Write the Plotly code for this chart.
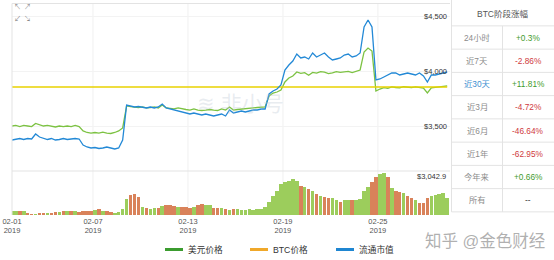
import plotly.graph_objects as go
import pandas as pd

# ---------------- data ----------------
times = pd.date_range("2019-02-01 21:00", periods=111, freq="6h")

usd_price = [
    3500, 3505, 3495, 3505, 3500, 3495, 3523, 3509, 3500, 3505, 3495, 3491, 3500, 3495, 3500, 3495, 3505, 3495,
    3455, 3441, 3436, 3441, 3436, 3445, 3436, 3432, 3441, 3455, 3482,
    3682, 3677, 3673, 3668, 3673, 3664, 3668, 3673, 3664, 3691, 3664, 3659, 3655, 3664, 3655, 3650, 3645, 3655,
    3645, 3641, 3645, 3650, 3645, 3641, 3655, 3645, 3673, 3645, 3650, 3655, 3659, 3664, 3664, 3668, 3673, 3673,
    3773, 3800, 3809,
    3827, 3900, 3936, 3955, 3991, 3978, 3985, 3962, 3987, 3980, 3994, 3989, 3976, 3983, 3995, 3988, 3990, 3997,
    3985, 4000, 4009, 4173, 4209, 4182,
    3818, 3836, 3848, 3842, 3856, 3850, 3847, 3857, 3853, 3849, 3856, 3852, 3845, 3800, 3846, 3851, 3855, 3860, 3864,
]

market_cap_b = [
    61.1, 61.2, 61.25, 61.15, 61.25, 61.2, 61.7, 61.4, 61.25, 61.15, 61.25, 61.1, 61.15, 61.25, 61.15, 61.2, 61.25, 61.2,
    60.6, 60.4, 60.3, 60.35, 60.25, 60.3, 60.4, 60.3, 60.2, 60.3, 61.1,
    64.6, 64.5, 64.4, 64.45, 64.35, 64.3, 64.4, 64.3, 64.4, 64.7, 64.3, 64.2, 64.1, 64.0, 63.9, 63.8, 63.7, 63.8,
    63.7, 63.6, 63.7, 63.6, 63.5, 63.6, 63.7, 63.5, 64.1, 63.8, 63.9, 64.0, 63.9, 64.0, 64.1, 64.1, 64.2, 64.2,
    65.7, 66.0, 66.2,
    66.6, 68.1, 68.6, 69.0, 69.7, 69.3, 69.4, 69.2, 69.8, 69.4, 69.6, 69.8, 69.4, 69.1, 69.2, 69.3, 69.6, 69.7,
    69.4, 69.5, 69.8, 72.4, 73.1, 72.4,
    67.1, 67.2, 67.4, 67.6, 67.8, 67.8, 67.6, 67.7, 67.8, 67.7, 67.6, 67.8, 67.5, 66.9, 67.6, 67.6, 67.7, 67.8, 67.9,
]

btc_price = [1.0] * len(times)

volume = [
    290, 286, 293, 254, 181, 72, 36, 145, 148, 142,
    181, 185, 217, 290, 326, 290, 254, 217, 254, 326,
    290, 398, 401, 326, 290, 217, 181, 217, 471, 1159,
    1449, 1521, 1304, 580, 507, 471, 475, 507, 688, 725,
    729, 688, 616, 580, 584, 543, 616, 761, 765, 725,
    721, 543, 507, 511, 435, 398, 402, 435, 398, 394,
    435, 398, 402, 435, 580, 942, 1377, 1739, 2246, 2391,
    2463, 2608, 2463, 2101, 2029, 1884, 1739, 1521, 1377, 1304,
    1268, 1232, 1087, 942, 1087, 1051, 1087, 1051, 1159, 1739,
    2029, 2391, 2753, 2970, 3042.9, 2753, 1956, 1739, 1666, 1594,
    1377, 1232, 1087, 869, 872, 1232, 1377, 1449, 1521, 1594, 1232,
]

tick_dates = ["2019-02-07", "2019-02-13", "2019-02-19", "2019-02-25"]
tick_labels = ["02-01", "02-07", "02-13", "02-19", "02-25", "03-01"]

table_title = "BTC阶段涨幅"
period_names = ["24小时", "近7天", "近30天", "近3月", "近6月", "近1年", "今年来", "所有"]
period_changes = ["+0.3%", "-2.86%", "+11.81%", "-4.72%", "-46.64%", "-62.95%", "+0.66%", "--"]

legend_names = ["美元价格", "BTC价格", "流通市值"]

# ---------------- geometry helpers ----------------
W, H = 554, 260
L, R, T, B = 12, 450, 3, 215
PX_PER_DAY = 15.83
origin = pd.Timestamp("2019-02-01 00:00")
ORIGIN_PX = -2


def px2date(x):
    return origin + pd.Timedelta(days=(x - ORIGIN_PX) / PX_PER_DAY)


def fx(x):
    return (x - L) / (R - L)


def fy(y):
    return (B - y) / (B - T)


FONT = "Liberation Sans, Arial, Noto Sans CJK SC, sans-serif"
GREEN = "#7cc242"
BLUE = "#2389d6"
YELLOW = "#e9d200"
UP = "#9ccd5c"
DOWN = "#d9825a"

bar_colors = [UP]
for i in range(1, len(usd_price)):
    bar_colors.append(UP if usd_price[i] >= usd_price[i - 1] else DOWN)

fig = go.Figure()
fig.add_trace(go.Bar(x=times, y=volume, marker=dict(color=bar_colors, line=dict(width=0)),
                     width=6 * 3600 * 1000 * 0.9, xaxis="x", yaxis="y", showlegend=False))
fig.add_trace(go.Scatter(x=times, y=btc_price, mode="lines", line=dict(color=YELLOW, width=1.3),
                         xaxis="x", yaxis="y3", showlegend=False))
fig.add_trace(go.Scatter(x=times, y=usd_price, mode="lines", line=dict(color=GREEN, width=1.3),
                         xaxis="x", yaxis="y2", showlegend=False))
fig.add_trace(go.Scatter(x=times, y=market_cap_b, mode="lines", line=dict(color=BLUE, width=1.3),
                         xaxis="x", yaxis="y4", showlegend=False))

split = (B - 171) / (B - T)
vol_max = max(volume)

tickvals = [px2date(L)] + [pd.Timestamp(d) for d in tick_dates] + [pd.Timestamp("2019-03-01 05:00")]
ticktext = [f"{t}<br>2019" for t in tick_labels]

shapes = []
line_c = "#e3e3e3"
# plot frame
shapes.append(dict(type="line", xref="paper", yref="paper", x0=0, x1=1, y0=fy(3.5), y1=fy(3.5),
                   line=dict(color=line_c, width=1)))
shapes.append(dict(type="line", xref="paper", yref="paper", x0=0, x1=0, y0=0, y1=fy(3.5),
                   line=dict(color=line_c, width=1)))
shapes.append(dict(type="line", xref="paper", yref="paper", x0=0, x1=1, y0=split, y1=split,
                   line=dict(color=line_c, width=1)))
for d in tick_dates:
    shapes.append(dict(type="line", xref="x", yref="paper", x0=d, x1=d, y0=0, y1=fy(3.5),
                       line=dict(color="#f0f0f0", width=1), layer="below"))

# table lines
tbl_l, tbl_r, col_div = 451.5, 554, 502.5
row_h = 23.25
first_c = 37.5
bounds = [first_c - row_h / 2 + k * row_h for k in range(len(period_names) + 1)]
shapes.append(dict(type="line", xref="paper", yref="paper", x0=fx(tbl_l), x1=fx(tbl_l), y0=fy(0), y1=fy(bounds[-1]),
                   line=dict(color=line_c, width=1)))
shapes.append(dict(type="line", xref="paper", yref="paper", x0=fx(col_div), x1=fx(col_div), y0=fy(bounds[0]),
                   y1=fy(bounds[-1]), line=dict(color=line_c, width=1)))
for b in bounds:
    shapes.append(dict(type="line", xref="paper", yref="paper", x0=fx(tbl_l), x1=fx(tbl_r), y0=fy(b), y1=fy(b),
                       line=dict(color=line_c, width=1)))

annotations = []
# table text
annotations.append(dict(text=table_title, x=fx(503), y=fy(14), xref="paper", yref="paper", showarrow=False,
                        xanchor="center", yanchor="middle", font=dict(size=8.5, color="#555", family=FONT)))
for k, (nm, ch) in enumerate(zip(period_names, period_changes)):
    cy = first_c + k * row_h
    ncol = "#3d8fd1" if nm == "近30天" else "#8c8c8c"
    if ch.startswith("+"):
        ccol = "#3f9b2d"
    elif ch.startswith("-") and ch != "--":
        ccol = "#cf3a3e"
    else:
        ccol = "#333"
    annotations.append(dict(text=nm, x=fx(477), y=fy(cy), xref="paper", yref="paper", showarrow=False,
                            xanchor="center", yanchor="middle", font=dict(size=8.3, color=ncol, family=FONT)))
    annotations.append(dict(text=ch, x=fx(528), y=fy(cy), xref="paper", yref="paper", showarrow=False,
                            xanchor="center", yanchor="middle", font=dict(size=8.3, color=ccol, family=FONT)))

# volume max label
annotations.append(dict(text=f"${vol_max:,.1f}", x=fx(448), y=fy(176), xref="paper", yref="paper",
                        showarrow=False, xanchor="right", yanchor="middle",
                        font=dict(size=7.5, color="#333", family=FONT)))

# custom legend
leg_cols = ["#3b9c2f", "#f0a82a", "#1f86d1"]
leg_x = [165, 250, 336]
for nm, c, x0 in zip(legend_names, leg_cols, leg_x):
    shapes.append(dict(type="line", xref="paper", yref="paper", x0=fx(x0), x1=fx(x0 + 18), y0=fy(249.5),
                       y1=fy(249.5), line=dict(color=c, width=3)))
    annotations.append(dict(text=nm, x=fx(x0 + 21), y=fy(249.5), xref="paper", yref="paper", showarrow=False,
                            xanchor="left", yanchor="middle", font=dict(size=8.7, color="#333", family=FONT)))

# expand icon
for t, xx, yy in [("↖", 17, 7), ("↗", 27, 7), ("↙", 17, 19), ("↘", 27, 19)]:
    annotations.append(dict(text=t, x=fx(xx), y=fy(yy), xref="paper", yref="paper", showarrow=False,
                            xanchor="center", yanchor="middle", font=dict(size=7, color="#8a8a8a", family=FONT)))

# watermarks
annotations.append(dict(text="≋ 非小号", x=fx(240), y=fy(104), xref="paper", yref="paper", showarrow=False,
                        xanchor="center", yanchor="middle",
                        font=dict(size=21, color="rgba(190,200,212,0.35)", family=FONT)))
annotations.append(dict(text="知乎 @金色财经", x=fx(485), y=fy(241), xref="paper", yref="paper", showarrow=False,
                        xanchor="center", yanchor="middle",
                        font=dict(size=16.5, color="rgba(150,150,150,0.75)", family=FONT)))

fig.update_layout(
    width=W, height=H,
    margin=dict(l=L, r=W - R, t=T, b=H - B, pad=0),
    paper_bgcolor="white", plot_bgcolor="white",
    showlegend=False,
    bargap=0,
    font=dict(family=FONT),
    xaxis=dict(type="date", range=[px2date(L), px2date(R)], domain=[0, 1], anchor="y",
               showgrid=False, zeroline=False, showline=False, ticks="",
               tickvals=tickvals, ticktext=ticktext, tickangle=0,
               tickfont=dict(size=7.5, color="#555", family=FONT)),
    yaxis=dict(domain=[0, split], range=[0, vol_max * 44 / 42], visible=False),
    yaxis2=dict(domain=[split, 1], range=[4000 - (171 - 71) / 0.11, 4000 + (71 - 3) / 0.11], anchor="x",
                side="right", ticklabelposition="inside", tickvals=[3500, 4000, 4500],
                ticktext=["$3,500", "$4,000", "$4,500"], showgrid=True, gridcolor="#f3f3f3",
                zeroline=False, showline=False, ticks="",
                tickfont=dict(size=7.5, color="#333", family=FONT)),
    yaxis3=dict(overlaying="y2", range=[0, 2], visible=False),
    yaxis4=dict(overlaying="y2", range=[61.2 + (139 - 171) * 0.1, 61.2 + (139 - 3) * 0.1], visible=False),
    shapes=shapes,
    annotations=annotations,
)

fig.write_html("out.html")
